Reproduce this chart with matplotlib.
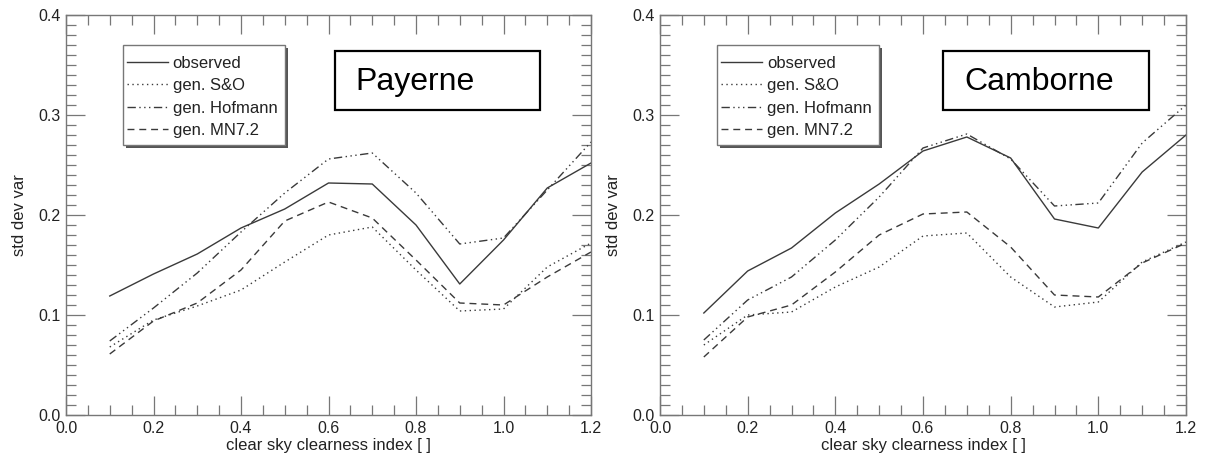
"""Std dev of clearness-index variability vs clear sky clearness index:
observed vs. three generators, Payerne and Camborne."""
import matplotlib
matplotlib.use("Agg")
import matplotlib.pyplot as plt
from matplotlib.patches import Rectangle
from matplotlib.ticker import MultipleLocator

plt.rcParams["font.family"] = ["Liberation Sans", "DejaVu Sans"]

kt = [0.1, 0.2, 0.3, 0.4, 0.5, 0.6, 0.7, 0.8, 0.9, 1.0, 1.1, 1.2]

# Payerne
pay_obs = [0.119, 0.141, 0.161, 0.187, 0.206, 0.232, 0.231, 0.190, 0.131, 0.175, 0.227, 0.252]
pay_so = [0.068, 0.095, 0.109, 0.125, 0.153, 0.180, 0.188, 0.145, 0.104, 0.106, 0.148, 0.172]
pay_hof = [0.074, 0.107, 0.142, 0.183, 0.222, 0.256, 0.262, 0.222, 0.171, 0.177, 0.225, 0.273]
pay_mn = [0.061, 0.094, 0.112, 0.145, 0.194, 0.213, 0.197, 0.155, 0.112, 0.110, 0.138, 0.163]

# Camborne
cam_obs = [0.102, 0.144, 0.167, 0.202, 0.231, 0.264, 0.278, 0.257, 0.196, 0.187, 0.243, 0.280]
cam_so = [0.070, 0.100, 0.103, 0.128, 0.148, 0.179, 0.182, 0.138, 0.108, 0.113, 0.153, 0.173]
cam_hof = [0.075, 0.115, 0.138, 0.175, 0.218, 0.267, 0.281, 0.256, 0.209, 0.212, 0.272, 0.310]
cam_mn = [0.058, 0.098, 0.110, 0.143, 0.180, 0.201, 0.203, 0.168, 0.120, 0.118, 0.152, 0.172]

labels = ["observed", "gen. S&O", "gen. Hofmann", "gen. MN7.2"]
styles = ["-", (0, (1, 2.5)), (0, (6, 2.5, 1, 2.5, 1, 2.5, 1, 2.5)), (0, (5, 3.5))]

LINE = "#3a3a3a"
FRAME = "#777777"
TEXT = "#222222"


def panel(ax, series, site, box_x, text_x):
    for ys, lab, ls in zip(series, labels, styles):
        ax.plot(kt, ys, ls=ls, color=LINE, lw=1.0, label=lab)
    ax.set_xlim(0, 1.2)
    ax.set_ylim(0, 0.4)
    ax.xaxis.set_major_locator(MultipleLocator(0.2))
    ax.xaxis.set_minor_locator(MultipleLocator(0.05))
    ax.yaxis.set_major_locator(MultipleLocator(0.1))
    ax.yaxis.set_minor_locator(MultipleLocator(0.01))
    ax.xaxis.set_major_formatter(lambda v, p: f"{v:.1f}")
    ax.yaxis.set_major_formatter(lambda v, p: f"{v:.1f}")
    ax.tick_params(which="both", direction="in", top=True, right=True,
                   color=FRAME, labelsize=11.5, labelcolor=TEXT, width=0.9)
    ax.tick_params(which="major", length=13.5, pad=4)
    ax.tick_params(which="minor", length=7)
    for s in ax.spines.values():
        s.set_color(FRAME)
        s.set_linewidth(1.0)
    ax.set_xlabel("clear sky clearness index [ ]", fontsize=12, color=TEXT, labelpad=2)
    ax.set_ylabel("std dev var", fontsize=12, color=TEXT, labelpad=8)

    # legend rows without frame; the IDL-style box with drop shadow is drawn by hand
    leg = ax.legend(loc="upper left", bbox_to_anchor=(0.116, 0.898), borderaxespad=0,
                    fontsize=12, frameon=False, handlelength=2.45,
                    handletextpad=0.3, labelspacing=0.45, borderpad=0)
    for t in leg.get_texts():
        t.set_color(TEXT)
    lx, ly, lw, lh = 0.108, 0.675, 0.309, 0.25
    ax.add_patch(Rectangle((lx + 3 / 525, ly - 3 / 400), lw, lh, transform=ax.transAxes,
                           facecolor="#555555", edgecolor="none", zorder=3))
    ax.add_patch(Rectangle((lx, ly), lw, lh, transform=ax.transAxes,
                           facecolor="white", edgecolor=FRAME, lw=1.0, zorder=3.5))
    leg.set_zorder(4)

    ax.add_patch(Rectangle((box_x, 0.7625), 0.391, 0.1475, transform=ax.transAxes,
                           fill=False, edgecolor="black", lw=1.6, zorder=5))
    ax.text(text_x, 0.8325, site, transform=ax.transAxes, fontsize=23,
            va="center", ha="left", color="black", zorder=6)


fig = plt.figure(figsize=(12.07, 4.54), dpi=100)
ax1 = fig.add_axes([66 / 1207, 39 / 454, 525 / 1207, 400 / 454])
ax2 = fig.add_axes([660 / 1207, 39 / 454, 526 / 1207, 400 / 454])

panel(ax1, [pay_obs, pay_so, pay_hof, pay_mn], "Payerne", 0.512, 0.552)
panel(ax2, [cam_obs, cam_so, cam_hof, cam_mn], "Camborne", 0.538, 0.578)

fig.savefig("out.png", dpi=100)
